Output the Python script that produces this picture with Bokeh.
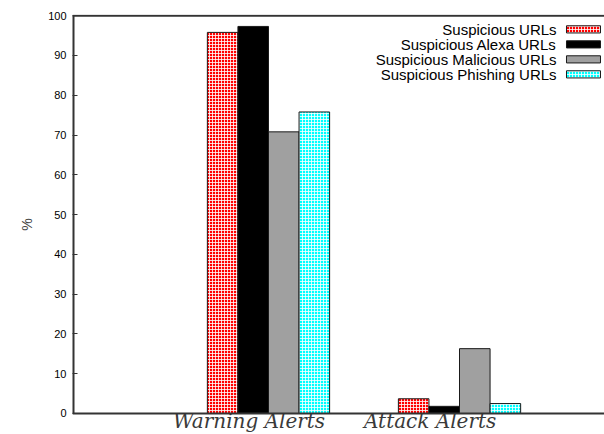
from bokeh.plotting import figure
from bokeh.models import Range1d, FixedTicker, Span
from bokeh.core.properties import value
from bokeh.embed import file_html
from bokeh.resources import INLINE

categories = ["Warning Alerts", "Attack Alerts"]
series_names = ["Suspicious URLs", "Suspicious Alexa URLs",
                "Suspicious Malicious URLs", "Suspicious Phishing URLs"]
suspicious_urls = [95.8, 3.7]
suspicious_alexa = [97.3, 1.8]
suspicious_malicious = [70.8, 16.3]
suspicious_phishing = [75.8, 2.5]
y_ticks = [0, 10, 20, 30, 40, 50, 60, 70, 80, 90, 100]

series = [suspicious_urls, suspicious_alexa, suspicious_malicious, suspicious_phishing]
fills = ["#ff0000", "#000000", "#a0a0a0", "#00ffff"]
hatches = ["cross", None, None, "cross"]
bar_w = 0.16
offsets = [-0.24, -0.08, 0.08, 0.24]

xr = Range1d(-1.026, 1.759)
yr = Range1d(-5.28, 100.3)
p = figure(width=604, height=434, output_backend="svg", toolbar_location=None,
           x_range=xr, y_range=yr, x_axis_location=None,
           min_border_left=72, min_border_right=0, min_border_top=14, min_border_bottom=0)
p.outline_line_color = None
p.grid.visible = False

def style(fc, hp):
    kw = dict(fill_color=fc, line_color="#1a1a1a", line_width=1)
    if hp:
        kw.update(hatch_pattern=hp, hatch_color="white", hatch_scale=3,
                  hatch_weight=1, hatch_alpha=0.8)
    return kw

for vals, fc, hp, off in zip(series, fills, hatches, offsets):
    xs = [i + off for i in range(len(categories))]
    p.vbar(x=xs, top=vals, bottom=0, width=bar_w, **style(fc, hp))

# legend (swatch right of text, as in the reference)
leg_y0, leg_dy, sw_h = 96.56, 3.77, 0.9
for k, (name, fc, hp) in enumerate(zip(series_names, fills, hatches)):
    yc = leg_y0 - k * leg_dy
    p.quad(left=[1.560], right=[1.738], bottom=[yc - sw_h], top=[yc + sw_h], **style(fc, hp))
    p.text(x=[1.508], y=[yc], text=[name], text_align="right", text_baseline="middle",
           text_font=value("Liberation Sans"), text_font_size="15px", text_color="#000000")

# box lines: top border, bottom axis line, left axis line (only from 0 to 100)
p.add_layout(Span(location=100, dimension="width", line_color="#333333", line_width=2))
p.add_layout(Span(location=0, dimension="width", line_color="#333333", line_width=2))
p.segment(x0=[xr.start], y0=[0], x1=[xr.start], y1=[100], line_color="#333333", line_width=4)

ya = p.yaxis[0]
ya.ticker = FixedTicker(ticks=y_ticks)
ya.minor_tick_line_color = None
ya.major_tick_in = 5
ya.major_tick_out = 0
ya.major_tick_line_color = "#333333"
ya.axis_line_color = None
ya.major_label_text_font = "Liberation Sans"
ya.major_label_text_font_size = "11px"
ya.major_label_text_color = "#000000"
ya.major_label_standoff = 6
ya.axis_label = "%"
ya.axis_label_text_font = "Liberation Sans"
ya.axis_label_text_font_style = "normal"
ya.axis_label_text_font_size = "14px"
ya.axis_label_standoff = 10

# category labels, left-aligned half a group before each group centre
p.text(x=[i - 0.5 for i in range(len(categories))], y=[0] * len(categories), text=categories,
       text_align="left", text_baseline="top", y_offset=-4,
       text_font=value("DejaVu Serif"), text_font_style="italic", text_font_size="20px",
       text_color="#3a3a3a")

open("out.html", "w").write(file_html(p, INLINE))
